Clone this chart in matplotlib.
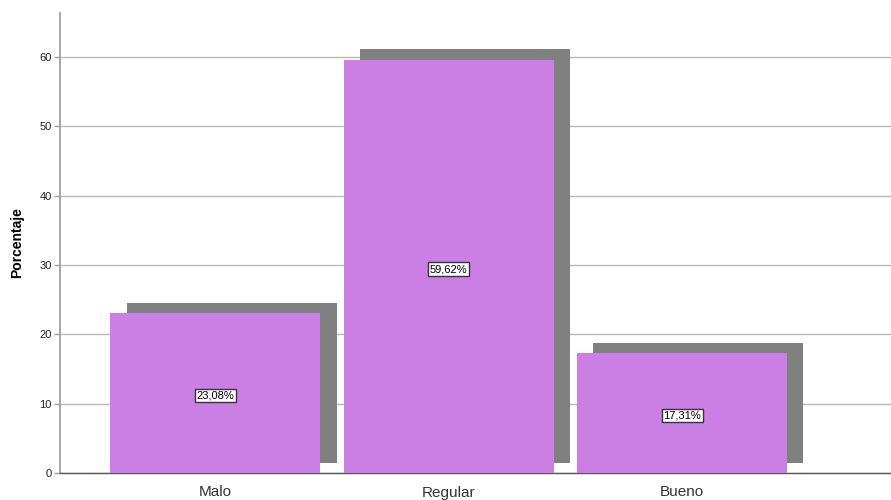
import matplotlib
matplotlib.use("Agg")
import matplotlib.pyplot as plt

categories = ["Malo", "Regular", "Bueno"]
values = [23.08, 59.62, 17.31]
labels = ["23,08%", "59,62%", "17,31%"]
yticks = [0, 10, 20, 30, 40, 50, 60]

plt.rcParams['font.family'] = ['Liberation Sans', 'DejaVu Sans']

fig = plt.figure(figsize=(8.91, 5.0), dpi=100)
ax = fig.add_axes([60/891, 27/500, 831/891, 460/500])

x = list(range(len(categories)))
width = 0.9
dx, dy = 0.07, 1.5

ax.bar([xi + dx for xi in x], values, width=width, bottom=dy,
       color="#808080", zorder=2, linewidth=0)
ax.bar(x, values, width=width, color="#CB7FE4", zorder=3, linewidth=0)

for xi, v, lab in zip(x, values, labels):
    ax.annotate(lab, (xi, v / 2), xytext=(0, -2), textcoords="offset points",
                ha="center", va="center", fontsize=8, color="black", zorder=5,
                bbox=dict(boxstyle="square,pad=0.15", facecolor="white",
                          edgecolor="#333333", linewidth=1.0))

ax.set_xlim(-0.666, 2.895)
ax.set_ylim(0, 66.35)
ax.set_yticks(yticks)
ax.set_yticklabels([str(t) for t in yticks], fontsize=8, color="#222222")
ax.set_xticks(x)
ax.set_xticklabels(categories, fontsize=11, color="#333333")
ax.tick_params(axis="x", length=0, pad=9)
ax.tick_params(axis="y", length=4, width=1, color="#a0a0a0", pad=2)

ax.yaxis.grid(True, color="#b8b8b8", linewidth=1.0, zorder=0)
ax.set_axisbelow(True)

for s in ["top", "right"]:
    ax.spines[s].set_visible(False)
ax.spines["left"].set_color("#a0a0a0")
ax.spines["left"].set_linewidth(1.3)
ax.spines["bottom"].set_color("#555555")
ax.spines["bottom"].set_linewidth(1.0)

ax.set_ylabel("Porcentaje", fontsize=10, fontweight="bold", labelpad=11)

fig.savefig("out.png", dpi=100)
